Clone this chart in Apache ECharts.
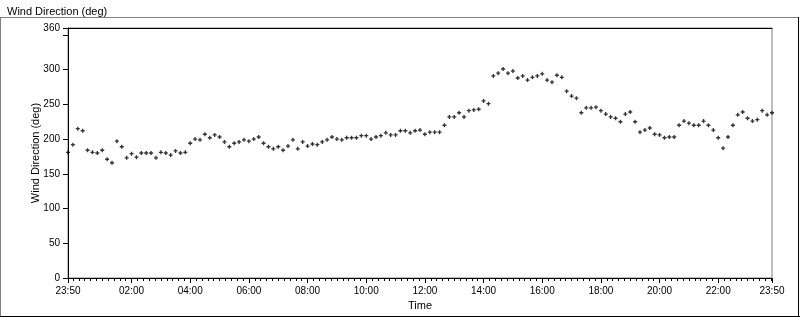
<!DOCTYPE html>
<html>
<head>
<meta charset="utf-8">
<script src="https://cdn.jsdelivr.net/npm/echarts@6/dist/echarts.min.js"></script>
<style>
  html, body { margin: 0; padding: 0; background: #fff; }
  #chart { width: 800px; height: 317px; }
</style>
</head>
<body>
<div id="chart"></div>
<script>
// ---- data ----
const startTime = '23:50';
const stepMinutes = 10;
const windDirection = [
  181, 192, 215, 212, 184, 181, 180, 184, 171, 166,
  197, 189, 173, 179, 174, 180, 180, 180, 173, 181,
  180, 177, 183, 180, 181, 194, 200, 199, 207, 202,
  206, 203, 196, 189, 194, 196, 199, 197, 200, 203,
  194, 189, 186, 189, 184, 190, 199, 186, 196, 190,
  193, 192, 196, 199, 203, 200, 199, 202, 202, 202,
  205, 205, 200, 203, 205, 209, 206, 206, 212, 212,
  209, 212, 213, 207, 210, 210, 210, 220, 232, 232,
  238, 232, 241, 242, 243, 255, 251, 291, 295, 301,
  295, 298, 288, 291, 285, 289, 291, 294, 285, 282,
  292, 289, 269, 262, 259, 238, 245, 245, 246, 241,
  236, 232, 230, 225, 236, 239, 225, 210, 213, 216,
  207, 206, 202, 203, 203, 220, 226, 223, 220, 220,
  226, 220, 213, 202, 187, 203, 220, 235, 239, 230,
  226, 228, 241, 235, 238
];
const xTickLabels = ['23:50', '02:00', '04:00', '06:00', '08:00', '10:00', '12:00',
                     '14:00', '16:00', '18:00', '20:00', '22:00', '23:50'];
const yTickValues = [0, 50, 100, 150, 200, 250, 300, 350, 360];
const yLabelValues = [0, 50, 100, 150, 200, 250, 300, 360];

// ---- helpers ----
function toMin(s) { const p = s.split(':'); return (+p[0]) * 60 + (+p[1]); }
const startMin = toMin(startTime);
const spanMin = 1440;
function offsetOf(label, idx) {
  let off = (toMin(label) - startMin + 1440) % 1440;
  if (idx > 0 && off === 0) off = 1440;
  return off;
}
const xLabelOffsets = xTickLabels.map((l, i) => offsetOf(l, i));
const minorOffsets = [];
for (let m = (1440 - startMin) % 1440; m <= spanMin; m += 12) minorOffsets.push(m);
function fmt(off) {
  const t = (startMin + off) % 1440;
  const h = Math.floor(t / 60), m = t % 60;
  return (h < 10 ? '0' : '') + h + ':' + (m < 10 ? '0' : '') + m;
}
const points = windDirection.map((v, i) => [i * stepMinutes, v]);

const FONT = 'Liberation Sans';
const chart = echarts.init(document.getElementById('chart'));
chart.setOption({
  animation: false,
  backgroundColor: '#ffffff',
  textStyle: { fontFamily: FONT },
  title: {
    text: 'Wind Direction (deg)',
    left: 2, top: 1,
    textStyle: { fontFamily: FONT, fontSize: 11, fontWeight: 'normal', color: '#000' }
  },
  graphic: [
    { type: 'line', shape: { x1: 0, y1: 17.5, x2: 798, y2: 17.5 }, style: { stroke: '#808080', lineWidth: 1 } },
    { type: 'line', shape: { x1: 0.5, y1: 17, x2: 0.5, y2: 316 }, style: { stroke: '#808080', lineWidth: 1 } },
    { type: 'line', shape: { x1: 0, y1: 316.5, x2: 800, y2: 316.5 }, style: { stroke: '#000', lineWidth: 1 } },
    { type: 'line', shape: { x1: 798.5, y1: 17, x2: 798.5, y2: 317 }, style: { stroke: '#000', lineWidth: 1 } }
  ],
  grid: { left: 68, right: 28, top: 28, bottom: 39, containLabel: false,
          show: true, borderColor: '#808080', borderWidth: 1, backgroundColor: 'transparent' },
  xAxis: [
    {
      type: 'value', min: 0, max: spanMin, position: 'bottom',
      name: 'Time', nameLocation: 'middle', nameGap: 22, nameMoveOverlap: false,
      nameTextStyle: { fontFamily: FONT, fontSize: 11, color: '#000' },
      axisLine: { show: true, lineStyle: { color: '#000', width: 1 } },
      axisTick: { show: true, customValues: xLabelOffsets, length: 5, lineStyle: { color: '#000' } },
      axisLabel: { show: true, customValues: xLabelOffsets, formatter: v => fmt(v),
                   fontFamily: FONT, fontSize: 10, color: '#000', margin: 8 },
      splitLine: { show: false }
    },
    {
      type: 'value', min: 0, max: spanMin, position: 'bottom',
      axisLine: { show: false },
      axisTick: { show: true, customValues: minorOffsets, length: 3, lineStyle: { color: '#000' } },
      axisLabel: { show: false },
      splitLine: { show: false }
    },
    {
      type: 'value', min: 0, max: spanMin, position: 'top',
      axisLine: { show: true, lineStyle: { color: '#000', width: 1 } },
      axisTick: { show: false }, axisLabel: { show: false }, splitLine: { show: false }
    }
  ],
  yAxis: [
    {
      type: 'value', min: 0, max: 360, position: 'left',
      name: 'Wind Direction (deg)', nameLocation: 'middle', nameGap: 27, nameRotate: 90,
      nameMoveOverlap: false,
      nameTextStyle: { fontFamily: FONT, fontSize: 11, color: '#000' },
      axisLine: { show: true, lineStyle: { color: '#000', width: 1 } },
      axisTick: { show: true, customValues: yTickValues, length: 5, lineStyle: { color: '#000' } },
      axisLabel: { show: true, customValues: yLabelValues, fontFamily: FONT, fontSize: 10, color: '#000', margin: 8 },
      splitLine: { show: false }
    }
  ],
  series: [{
    type: 'scatter',
    xAxisIndex: 0, yAxisIndex: 0,
    data: points,
    symbol: 'path://M1 0H2V1H3V2H2V3H1V2H0V1H1Z',
    symbolSize: 4,
    itemStyle: { color: '#000' },
    emphasis: { disabled: true }
  }]
});
</script>
</body>
</html>
